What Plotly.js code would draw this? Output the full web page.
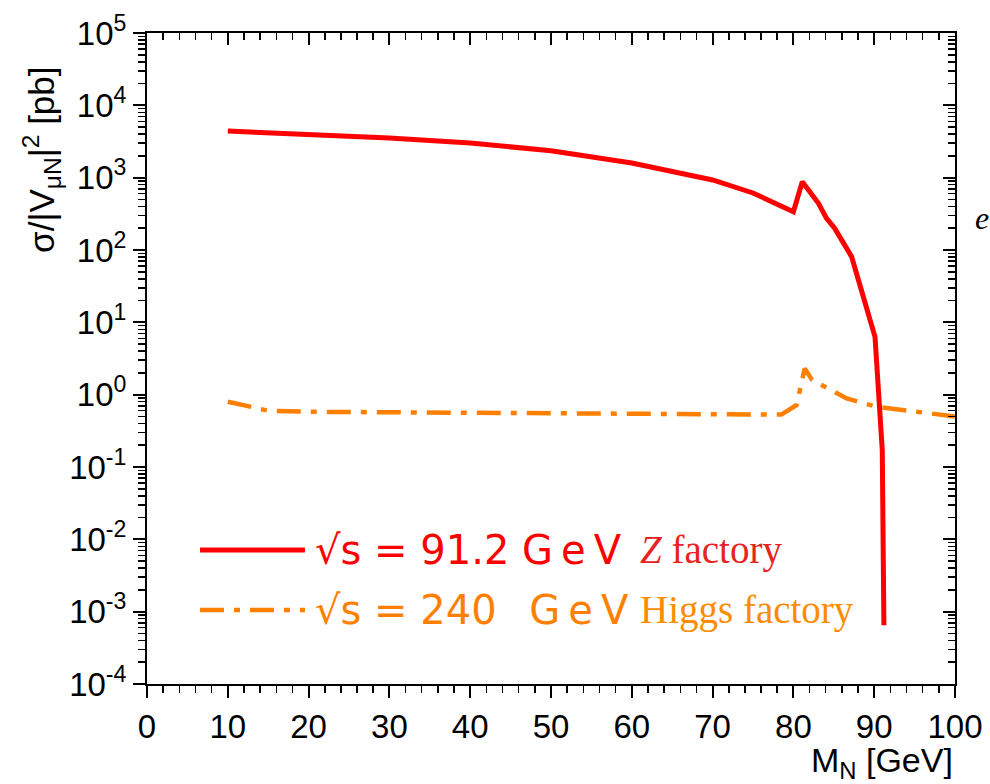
<!DOCTYPE html>
<html>
<head>
<meta charset="utf-8">
<script src="https://cdn.plot.ly/plotly-3.0.1.min.js"></script>
<style>html,body{margin:0;padding:0;background:#fff;}#chart{width:990px;height:784px;}</style>
</head>
<body>
<div id="chart"></div>
<script>
// Z factory (sqrt(s) = 91.2 GeV)
var massZ  = [10, 20, 30, 40, 50, 60, 70, 75, 80, 81.1, 82.1, 83.1, 84.1, 85.1, 87.2, 90.1, 91.0, 91.2];
var sigmaZ = [4400, 4020, 3530, 3010, 2360, 1595, 930, 614, 338, 880, 608, 442, 274, 200, 81, 6.3, 0.17, 0.00065];
// Higgs factory (sqrt(s) = 240 GeV)
var massH  = [10, 15, 20, 30, 40, 50, 60, 70, 78.5, 80.4, 81.4, 82.3, 86.6, 90.3, 95, 100];
var sigmaH = [0.80, 0.60, 0.58, 0.57, 0.56, 0.55, 0.54, 0.53, 0.53, 0.72, 2.31, 1.6, 0.885, 0.68, 0.58, 0.50];

var xTickVals = [0, 10, 20, 30, 40, 50, 60, 70, 80, 90, 100];
var yTickVals = [1e-4, 1e-3, 1e-2, 1e-1, 1e0, 1e1, 1e2, 1e3, 1e4, 1e5];
var yTickText = ['10<sup>-4</sup>', '10<sup>-3</sup>', '10<sup>-2</sup>', '10<sup>-1</sup>', '10<sup>0</sup>',
                 '10<sup>1</sup>', '10<sup>2</sup>', '10<sup>3</sup>', '10<sup>4</sup>', '10<sup>5</sup>'];

var legendZ = '√s = 91.2 G\u2009e\u2009V';
var legendH = '√s = 240\u2002 G\u2009e\u2009V';
var labelZ = '<i>Z</i> factory';
var labelH = 'Higgs factory';

var RED = '#ff0000', ORANGE = '#ff7f00';
var DASHDOT = '24px,10px,6px,10px';
var tickFont = {family: 'Liberation Sans, Arial, sans-serif', size: 33, color: '#000'};

var traces = [
  {x: massZ, y: sigmaZ, type: 'scatter', mode: 'lines', line: {color: RED, width: 5}, showlegend: false, hoverinfo: 'skip'},
  {x: massH, y: sigmaH, xaxis: 'x2', yaxis: 'y2', type: 'scatter', mode: 'lines', line: {color: ORANGE, width: 4.5, dash: DASHDOT}, showlegend: false, hoverinfo: 'skip'}
];

var axCommon = {showgrid: false, zeroline: false, showline: true, linecolor: '#000', linewidth: 2, tickcolor: '#000', tickwidth: 2};

var layout = {
  width: 990, height: 784,
  margin: {l: 147, r: 35, t: 33, b: 100},
  paper_bgcolor: '#fff', plot_bgcolor: '#fff',
  showlegend: false,
  xaxis: Object.assign({}, axCommon, {
    range: [0, 100], tickmode: 'array', tickvals: xTickVals, ticks: 'outside', ticklen: 12,
    tickfont: tickFont, minor: {dtick: 2, ticks: 'outside', ticklen: 7, tickwidth: 1.5, tickcolor: '#000', showgrid: false}
  }),
  yaxis: Object.assign({}, axCommon, {
    type: 'log', range: [-4, 5], tickmode: 'array', tickvals: yTickVals, ticktext: yTickText,
    ticks: 'outside', ticklen: 12, tickfont: tickFont,
    minor: {dtick: 'D1', ticks: 'outside', ticklen: 7, tickwidth: 1.5, tickcolor: '#000', showgrid: false}
  }),
  xaxis2: Object.assign({}, axCommon, {
    overlaying: 'x', side: 'top', range: [0, 100], tickmode: 'array', tickvals: xTickVals, ticks: 'inside', ticklen: 12,
    showticklabels: false, minor: {dtick: 2, ticks: 'inside', ticklen: 7, tickwidth: 1.5, tickcolor: '#000', showgrid: false}
  }),
  yaxis2: Object.assign({}, axCommon, {
    overlaying: 'y', side: 'right', type: 'log', range: [-4, 5], tickmode: 'array', tickvals: yTickVals, ticks: 'inside', ticklen: 12,
    showticklabels: false, minor: {dtick: 'D1', ticks: 'inside', ticklen: 7, tickwidth: 1.5, tickcolor: '#000', showgrid: false}
  }),
  shapes: [
    {type: 'line', xref: 'paper', yref: 'paper', x0: 0.0656, x1: 0.1955, y0: 0.2058, y1: 0.2058, line: {color: RED, width: 5}},
    {type: 'line', xref: 'paper', yref: 'paper', x0: 0.0656, x1: 0.1955, y0: 0.1137, y1: 0.1137, line: {color: ORANGE, width: 4.5, dash: DASHDOT}}
  ],
  annotations: [
    {xref: 'paper', yref: 'paper', x: -0.13, y: 0.805, textangle: -90, showarrow: false, xanchor: 'center', yanchor: 'middle',
     text: 'σ/|V<sub>μN</sub>|<sup>2</sup> [pb]', font: {family: 'Liberation Sans, Arial, sans-serif', size: 35, color: '#000'}},
    {xref: 'paper', yref: 'paper', x: 1.0, y: -0.121, showarrow: false, xanchor: 'right', yanchor: 'middle',
     text: 'M<sub>N</sub> [GeV]', font: {family: 'Liberation Sans, Arial, sans-serif', size: 34, color: '#000'}},
    {xref: 'paper', yref: 'paper', x: 0.2054, y: 0.2058, showarrow: false, xanchor: 'left', yanchor: 'middle',
     text: legendZ, font: {family: 'DejaVu Sans, sans-serif', size: 40, color: RED}},
    {xref: 'paper', yref: 'paper', x: 0.2054, y: 0.1137, showarrow: false, xanchor: 'left', yanchor: 'middle',
     text: legendH, font: {family: 'DejaVu Sans, sans-serif', size: 40, color: ORANGE}},
    {xref: 'paper', yref: 'paper', x: 0.608, y: 0.2058, showarrow: false, xanchor: 'left', yanchor: 'middle',
     text: labelZ, font: {family: 'Liberation Serif, Times New Roman, serif', size: 39, color: '#e8231f'}},
    {xref: 'paper', yref: 'paper', x: 0.608, y: 0.1137, showarrow: false, xanchor: 'left', yanchor: 'middle',
     text: labelH, font: {family: 'Liberation Serif, Times New Roman, serif', size: 39, color: '#ff8c00'}},
    {xref: 'paper', yref: 'paper', x: 1.022, y: 0.716, showarrow: false, xanchor: 'left', yanchor: 'middle',
     text: '<i>e</i>', font: {family: 'Liberation Serif, serif', size: 32, color: '#000'}}
  ]
};

Plotly.newPlot('chart', traces, layout, {staticPlot: true, displayModeBar: false});
</script>
</body>
</html>
